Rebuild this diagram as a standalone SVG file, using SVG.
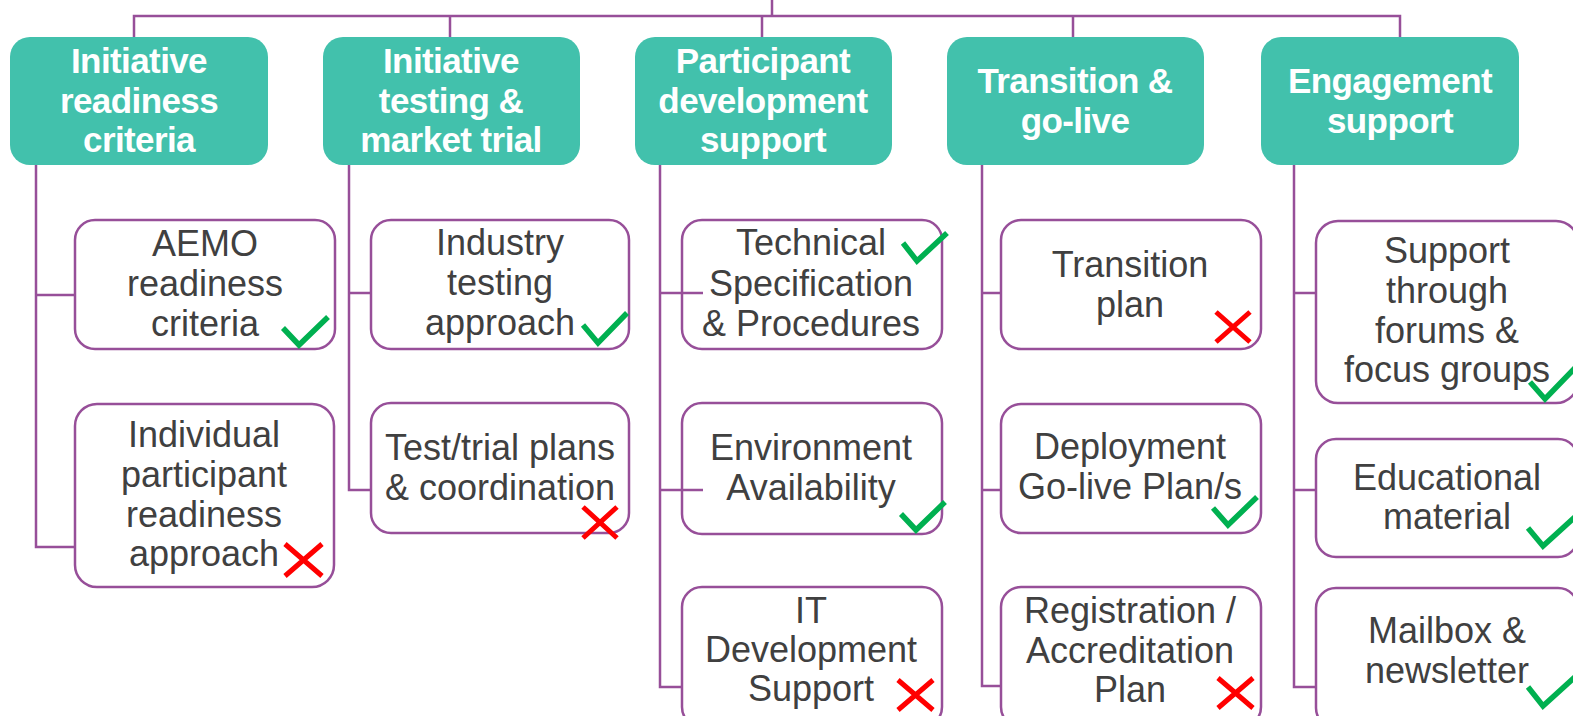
<svg xmlns="http://www.w3.org/2000/svg" width="1573" height="716" viewBox="0 0 1573 716">
<style>
.hdr{fill:#42C1AC}
.box{fill:#FFFFFF;stroke:#974F99;stroke-width:2.5}
.ht{font-family:"Liberation Sans",Arial,sans-serif;font-weight:bold;font-size:35px;letter-spacing:-0.6px;fill:#FFFFFF;text-anchor:middle}
.bt{font-family:"Liberation Sans",Arial,sans-serif;font-size:36px;fill:#404040;text-anchor:middle}
.con{fill:none;stroke:#974F99;stroke-width:2.5}
.chk{fill:none;stroke:#00B050;stroke-width:5.5}
.crs{fill:none;stroke:#FF0000;stroke-width:5}
</style>
<rect width="1573" height="716" fill="#FFFFFF"/>
<g id="h1"><rect class="hdr" x="10" y="37" width="258" height="128" rx="20"/><text class="ht" x="139" y="73">Initiative</text><text class="ht" x="139" y="113">readiness</text><text class="ht" x="139" y="152">criteria</text></g>
<g id="h2"><rect class="hdr" x="323" y="37" width="257" height="128" rx="20"/><text class="ht" x="451" y="73">Initiative</text><text class="ht" x="451" y="113">testing &amp;</text><text class="ht" x="451" y="152">market trial</text></g>
<g id="h3"><rect class="hdr" x="635" y="37" width="257" height="128" rx="20"/><text class="ht" x="763" y="73">Participant</text><text class="ht" x="763" y="113">development</text><text class="ht" x="763" y="152">support</text></g>
<g id="h4"><rect class="hdr" x="947" y="37" width="257" height="128" rx="20"/><text class="ht" x="1075" y="93">Transition &amp;</text><text class="ht" x="1075" y="133">go-live</text></g>
<g id="h5"><rect class="hdr" x="1261" y="37" width="258" height="128" rx="20"/><text class="ht" x="1390" y="93">Engagement</text><text class="ht" x="1390" y="133">support</text></g>

<g id="c1b1"><rect class="box" x="75" y="220" width="260" height="129" rx="20"/><text class="bt" x="205" y="256">AEMO</text><text class="bt" x="205" y="296">readiness</text><text class="bt" x="205" y="336">criteria</text><polyline class="chk" points="283,328 299,345 328,317"/></g>
<g id="c1b2"><rect class="box" x="75" y="404" width="259" height="183" rx="22"/><text class="bt" x="204" y="447">Individual</text><text class="bt" x="204" y="487">participant</text><text class="bt" x="204" y="527">readiness</text><text class="bt" x="204" y="566">approach</text><path class="crs" d="M285,544 L322,576 M322,544 L285,576"/></g>

<g id="c2b1"><rect class="box" x="371" y="220" width="258" height="129" rx="20"/><text class="bt" x="500" y="255">Industry</text><text class="bt" x="500" y="295">testing</text><text class="bt" x="500" y="335">approach</text><polyline class="chk" points="583,325 598,343 627,313"/></g>
<g id="c2b2"><rect class="box" x="371" y="403" width="258" height="130" rx="20"/><text class="bt" x="500" y="460">Test/trial plans</text><text class="bt" x="500" y="500">&amp; coordination</text><path class="crs" d="M583,507 L617,538 M617,507 L583,538"/></g>

<g id="c3b1"><rect class="box" x="682" y="220" width="260" height="129" rx="20"/><text class="bt" x="811" y="255">Technical</text><text class="bt" x="811" y="296">Specification</text><text class="bt" x="811" y="336">&amp; Procedures</text><polyline class="chk" points="903,243 917,261 947,233"/></g>
<g id="c3b2"><rect class="box" x="682" y="403" width="260" height="131" rx="20"/><text class="bt" x="811" y="460">Environment</text><text class="bt" x="811" y="500">Availability</text><polyline class="chk" points="901,514 916,530 945,502"/></g>
<g id="c3b3"><rect class="box" x="682" y="587" width="260" height="140" rx="20"/><text class="bt" x="811" y="623">IT</text><text class="bt" x="811" y="662">Development</text><text class="bt" x="811" y="701">Support</text><path class="crs" d="M898,680 L933,710 M933,680 L898,710"/></g>

<g id="c4b1"><rect class="box" x="1001" y="220" width="260" height="129" rx="20"/><text class="bt" x="1130" y="277">Transition</text><text class="bt" x="1130" y="317">plan</text><path class="crs" d="M1216,312 L1250,342 M1250,312 L1216,342"/></g>
<g id="c4b2"><rect class="box" x="1001" y="404" width="260" height="129" rx="20"/><text class="bt" x="1130" y="459">Deployment</text><text class="bt" x="1130" y="499">Go-live Plan/s</text><polyline class="chk" points="1213,508 1228,525 1257,497"/></g>
<g id="c4b3"><rect class="box" x="1001" y="587" width="260" height="140" rx="20"/><text class="bt" x="1130" y="623">Registration /</text><text class="bt" x="1130" y="663">Accreditation</text><text class="bt" x="1130" y="702">Plan</text><path class="crs" d="M1218,678 L1253,708 M1253,678 L1218,708"/></g>

<g id="c5b1"><rect class="box" x="1316" y="221" width="262" height="182" rx="22"/><text class="bt" x="1447" y="263">Support</text><text class="bt" x="1447" y="303">through</text><text class="bt" x="1447" y="343">forums &amp;</text><text class="bt" x="1447" y="382">focus groups</text><polyline class="chk" points="1530,382 1545,399 1575,368"/></g>
<g id="c5b2"><rect class="box" x="1316" y="439" width="262" height="118" rx="20"/><text class="bt" x="1447" y="490">Educational</text><text class="bt" x="1447" y="529">material</text><polyline class="chk" points="1528,528 1543,546 1575,517"/></g>
<g id="c5b3"><rect class="box" x="1316" y="588" width="262" height="140" rx="20"/><text class="bt" x="1447" y="643">Mailbox &amp;</text><text class="bt" x="1447" y="683">newsletter</text><polyline class="chk" points="1528,687 1543,706 1575,677"/></g>

<g id="connectors">
<path class="con" d="M134,37 V16 H1400 V37 M772,0 V16 M450,16 V37 M762,16 V37 M1073,16 V37"/>
<path class="con" d="M36,165 V547 H75 M36,295 H75"/>
<path class="con" d="M349,165 V490 H371 M349,293 H371"/>
<path class="con" d="M660,165 V687 H682 M660,293 H703 M660,490 H703"/>
<path class="con" d="M982,165 V686 H1001 M982,293 H1001 M982,490 H1001"/>
<path class="con" d="M1294,165 V687 H1316 M1294,293 H1316 M1294,490 H1316"/>
</g>
</svg>
